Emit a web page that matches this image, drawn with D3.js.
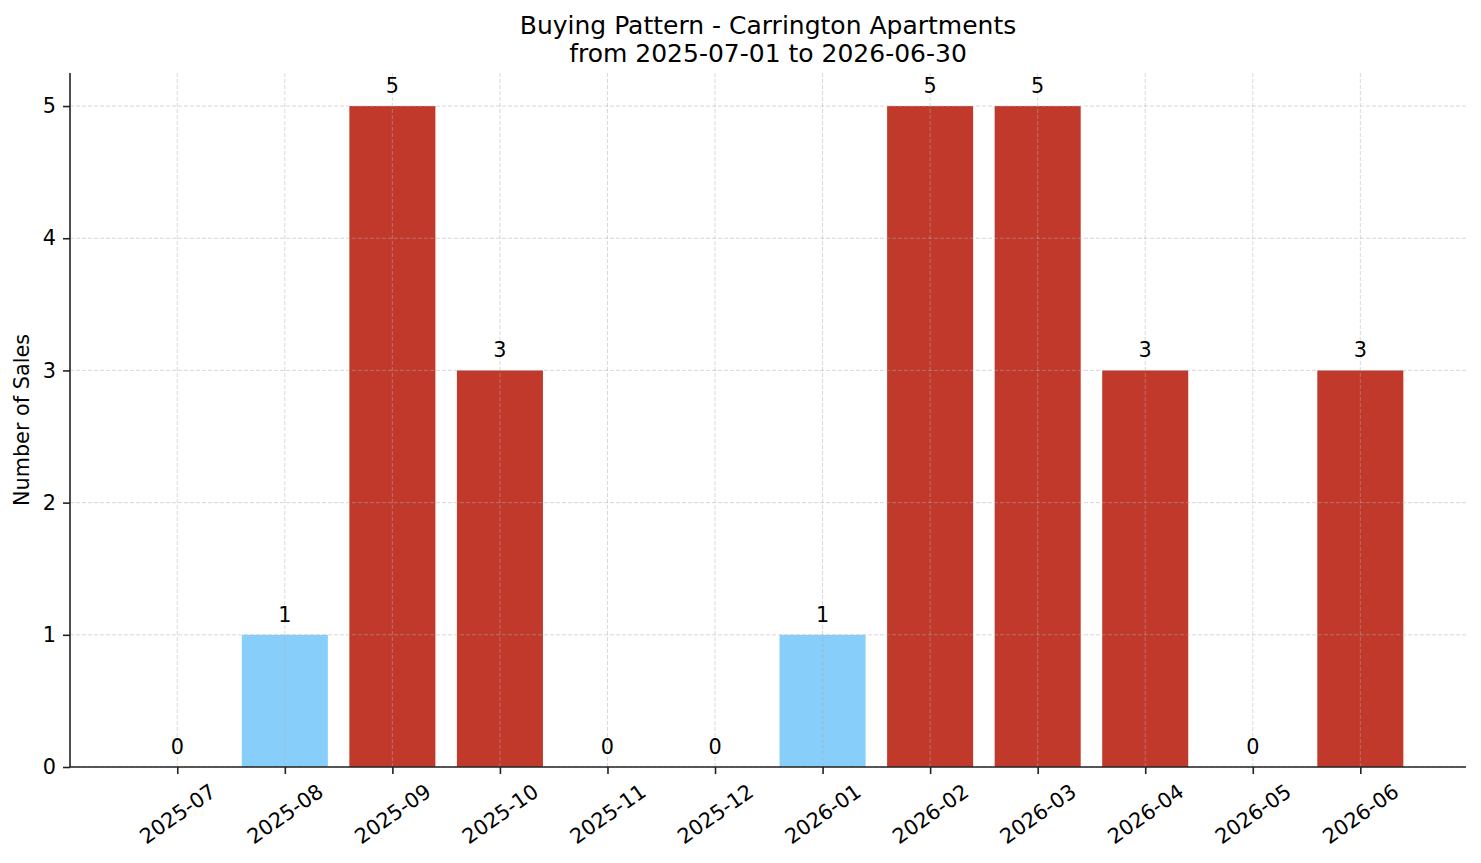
<!DOCTYPE html>
<html><head><meta charset="utf-8">
<script src="https://cdn.jsdelivr.net/npm/d3@7"></script>
<style>
body{margin:0;background:#fff;}
text{font-family:"DejaVu Sans",sans-serif;fill:#000;}
</style></head>
<body>
<svg id="chart" width="1481" height="863"></svg>
<script>
const months = ["2025-07","2025-08","2025-09","2025-10","2025-11","2025-12","2026-01","2026-02","2026-03","2026-04","2026-05","2026-06"];
const sales = [0,1,5,3,0,0,1,5,5,3,0,3];
const yTicks = [0,1,2,3,4,5];
const titleLines = ["Buying Pattern - Carrington Apartments","from 2025-07-01 to 2026-06-30"];
const yLabel = "Number of Sales";

const W=1481,H=863;
const m={left:70,right:1466,top:73,bottom:767};
const svg=d3.select("#chart");
const n=months.length, bw=0.8;
const span=(n-1)+bw, pad=0.05*span;
const x=d3.scaleLinear().domain([-bw/2-pad,(n-1)+bw/2+pad]).range([m.left+0.8,m.right+0.8]);
const yMax=d3.max(sales)*1.05;
const y=d3.scaleLinear().domain([0,yMax]).range([m.bottom,m.top]);
const pxPerUnit=x(1)-x(0);
const color=v=>v>1?"#C0392B":"#87CEFA";

// bars
svg.append("g").selectAll("rect").data(sales).join("rect")
  .attr("x",(d,i)=>x(i-bw/2)).attr("width",bw*pxPerUnit)
  .attr("y",d=>y(d)).attr("height",d=>y(0)-y(d))
  .attr("fill",d=>color(d));

// grid
const grid=svg.append("g").attr("stroke","#b0b0b0").attr("stroke-opacity",0.55).attr("stroke-width",0.9).attr("stroke-dasharray","4,2");
grid.selectAll("line.v").data(months).join("line").attr("class","v")
  .attr("x1",(d,i)=>x(i)).attr("x2",(d,i)=>x(i)).attr("y1",m.top).attr("y2",m.bottom);
grid.selectAll("line.h").data(yTicks).join("line").attr("class","h")
  .attr("x1",m.left).attr("x2",m.right).attr("y1",d=>y(d)).attr("y2",d=>y(d));

// axes
const xAxis=d3.axisBottom(x).tickValues(d3.range(n)).tickFormat(i=>months[i]).tickSize(7).tickPadding(7);
const gx=svg.append("g").attr("transform",`translate(0,${m.bottom})`).call(xAxis);
gx.select(".domain").attr("d",`M${m.left},0H${m.right}`);
gx.selectAll("text").attr("font-size","20.8px").attr("text-anchor","middle")
  .attr("dy",null).attr("y",null)
  .attr("dominant-baseline","central")
  .attr("transform","translate(0,47) rotate(-35)");
const yAxis=d3.axisLeft(y).tickValues(yTicks).tickFormat(d3.format("d")).tickSize(7).tickPadding(7);
const gy=svg.append("g").attr("transform",`translate(${m.left},0)`).call(yAxis);
gy.select(".domain").attr("d",`M0,${m.bottom}V${m.top}`);
gy.selectAll("text").attr("font-size","20.8px");
[gx,gy].forEach(g=>{g.select(".domain").attr("stroke","#222").attr("stroke-width",1.6);
  g.selectAll(".tick line").attr("stroke","#222").attr("stroke-width",1.6);
  g.attr("font-family",null);});

// value labels
svg.append("g").selectAll("text").data(sales).join("text")
  .attr("x",(d,i)=>x(i)).attr("y",d=>y(d)-13)
  .attr("text-anchor","middle").attr("font-size","20.8px").text(d=>d);

// title
svg.append("text").attr("x",(m.left+m.right)/2).attr("text-anchor","middle").attr("font-size","25px")
  .selectAll("tspan").data(titleLines).join("tspan")
  .attr("x",(m.left+m.right)/2).attr("y",(d,i)=>33.5+i*28.5).text(d=>d);

// y label
svg.append("text").attr("transform",`translate(29,${(m.top+m.bottom)/2}) rotate(-90)`)
  .attr("text-anchor","middle").attr("font-size","20.8px").text(yLabel);
</script>
</body></html>
